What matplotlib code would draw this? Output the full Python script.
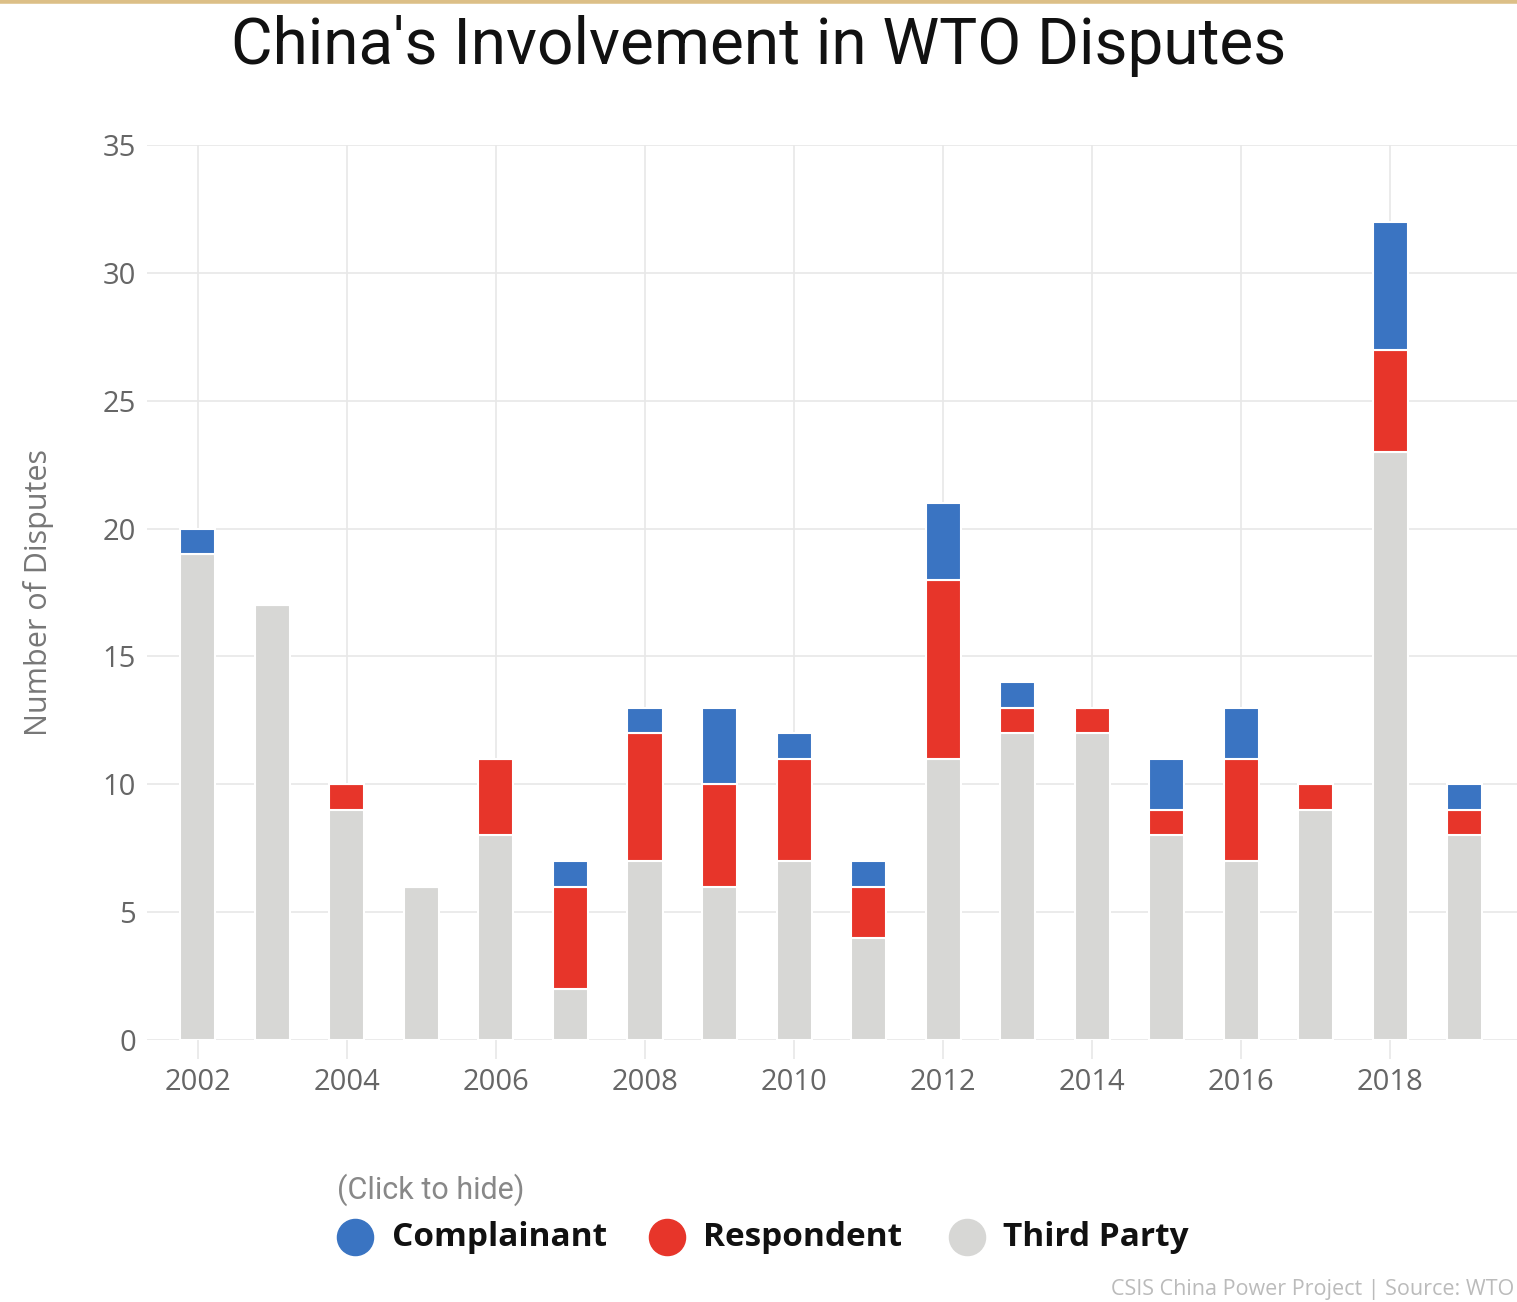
import numpy as np
import matplotlib
matplotlib.use('Agg')
import matplotlib.pyplot as plt
from matplotlib.lines import Line2D

years = list(range(2002, 2020))
third_party = [19, 17, 9, 6, 8, 2, 7, 6, 7, 4, 11, 12, 12, 8, 7, 9, 23, 8]
respondent = [0, 0, 1, 0, 3, 4, 5, 4, 4, 2, 7, 1, 1, 1, 4, 1, 4, 1]
complainant = [1, 0, 0, 0, 0, 1, 1, 3, 1, 1, 3, 1, 0, 2, 2, 0, 5, 1]

c_blue = '#3a74c2'
c_red = '#e7352a'
c_gray = '#d7d7d5'

fig = plt.figure(figsize=(15.17, 13.02), dpi=100)
ax = fig.add_axes([0.097, 0.2012, 0.903, 0.6874])

x = np.array(years)
tp = np.array(third_party)
rs = np.array(respondent)
cp = np.array(complainant)
w = 0.47
ax.bar(x, tp, w, color=c_gray, edgecolor='white', linewidth=1.5, zorder=3)
ax.bar(x, rs, w, bottom=tp, color=c_red, edgecolor='white', linewidth=1.5, zorder=3)
ax.bar(x, cp, w, bottom=tp + rs, color=c_blue, edgecolor='white', linewidth=1.5, zorder=3)

ax.set_xlim(2001.32, 2019.7)
ax.set_ylim(0, 35)
ax.set_yticks(range(0, 36, 5))
ax.set_xticks(range(2002, 2019, 2))
ax.grid(True, color='#e8e8e8', linewidth=1.2, zorder=0)
for s in ax.spines.values():
    s.set_visible(False)
ax.tick_params(axis='y', length=0, pad=8, labelsize=21, labelcolor='#666666')
ax.tick_params(axis='x', length=14, width=1.2, color='#e8e8e8', pad=6, labelsize=21, labelcolor='#666666')
for lab in ax.get_xticklabels() + ax.get_yticklabels():
    lab.set_fontfamily('Open Sans')
ax.set_ylabel('Number of Disputes', fontsize=22, color='#777777', family='Open Sans')
ax.yaxis.set_label_coords(-0.068, 0.5)

fig.text(0.5, 0.965, "China's Involvement in WTO Disputes", ha='center', va='center',
         fontsize=46, family='Roboto', color='#111111')

# legend drawn by hand
fig.text(337 / 1517, 1 - 1190 / 1302, '(Click to hide)', fontsize=22, color='#888888',
         family='Roboto', va='center', ha='left')
leg = [('Complainant', c_blue, 355, 392), ('Respondent', c_red, 667, 703), ('Third Party', c_gray, 967, 1003)]
for name, col, cx, tx in leg:
    fig.add_artist(Line2D([cx / 1517], [1 - 1237 / 1302], marker='o', markersize=26,
                          color=col, linestyle='none', transform=fig.transFigure))
    fig.text(tx / 1517, 1 - 1238 / 1302, name, fontsize=24, fontweight='bold', family='Open Sans',
             color='#111111', va='center', ha='left')

fig.text(0.998, 1 - 1289 / 1302, 'CSIS China Power Project | Source: WTO', fontsize=15.5,
         color='#bbbbbb', family='Open Sans', ha='right', va='center')

fig.add_artist(Line2D([0, 1], [0.999, 0.999], color='#dcbf87', linewidth=4, transform=fig.transFigure))

fig.savefig('out.png', dpi=100)
